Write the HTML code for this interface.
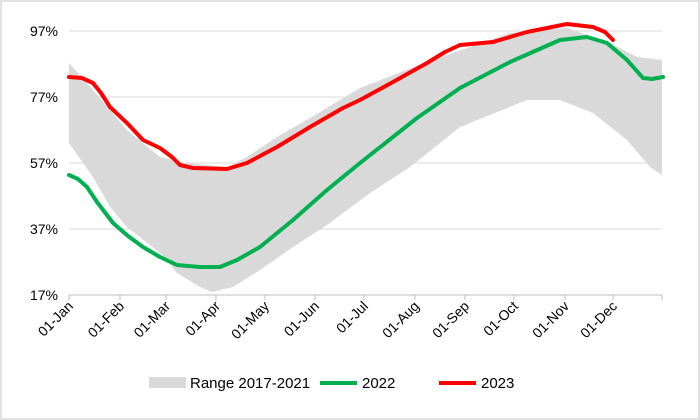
<!DOCTYPE html>
<html><head><style>body{margin:0;background:#fff}svg{display:block;font-family:"Liberation Sans",sans-serif}</style></head><body>
<svg width="700" height="420" viewBox="0 0 700 420">
<rect x="1" y="1" width="698" height="418" fill="#fff" stroke="#d9d9d9" stroke-width="1.5"/>
<g stroke="#d9d9d9" stroke-width="1">
<line x1="69" y1="31" x2="662" y2="31"/><line x1="69" y1="97" x2="662" y2="97"/><line x1="69" y1="163" x2="662" y2="163"/><line x1="69" y1="229" x2="662" y2="229"/>
</g>
<polygon fill="#d9d9d9" points="69,63 93,90 127,130 160,157 187,163 227,167 247,157 277,137 310,118 360,88 427,62 510,33 567,28 610,43 637,57 662,60 662,175 650,167 627,140 593,113 560,100 527,100 460,127 410,167 370,193 327,225 293,247 260,270 233,287 212,292 200,287 177,273 160,253 127,227 110,207 93,177 69,143"/>
<line x1="69" y1="295" x2="662" y2="295" stroke="#bfbfbf"/>
<g stroke="#bfbfbf"><line x1="69" y1="295" x2="69" y2="300"/><line x1="120" y1="295" x2="120" y2="300"/><line x1="166" y1="295" x2="166" y2="300"/><line x1="216" y1="295" x2="216" y2="300"/><line x1="265" y1="295" x2="265" y2="300"/><line x1="315" y1="295" x2="315" y2="300"/><line x1="364" y1="295" x2="364" y2="300"/><line x1="415" y1="295" x2="415" y2="300"/><line x1="465" y1="295" x2="465" y2="300"/><line x1="514" y1="295" x2="514" y2="300"/><line x1="565" y1="295" x2="565" y2="300"/><line x1="613" y1="295" x2="613" y2="300"/><line x1="662" y1="295" x2="662" y2="300"/></g>
<polyline fill="none" stroke="#00b050" stroke-width="4" stroke-linejoin="round" stroke-linecap="round" points="69,175 78,179 87,187 97,202 113,223 128,236 143,247 160,257 177,265 200,267 220,267 237,260 260,247 293,220 327,190 360,163 417,118 460,88 510,62 560,40 587,37 607,43 627,60 643,78 652,79 663,77"/>
<polyline fill="none" stroke="#ff0000" stroke-width="4" stroke-linejoin="round" stroke-linecap="round" points="69,77 82,78 93,83 101,93 110,107 127,123 143,140 160,148 172,157 180,165 193,168 227,169 247,163 277,147 310,127 343,108 360,100 393,82 427,63 445,52 460,45 493,42 527,32 567,24 593,27 605,32 613,40"/>
<g font-size="14" fill="#000" text-anchor="end">
<text x="58" y="36">97%</text><text x="58" y="102">77%</text><text x="58" y="168">57%</text><text x="58" y="234">37%</text><text x="58" y="300">17%</text>
</g>
<g font-size="14" fill="#000" text-anchor="end">
<text transform="translate(74,307) rotate(-45)">01-Jan</text>
<text transform="translate(125,307) rotate(-45)">01-Feb</text>
<text transform="translate(171,307) rotate(-45)">01-Mar</text>
<text transform="translate(221,307) rotate(-45)">01-Apr</text>
<text transform="translate(270,307) rotate(-45)">01-May</text>
<text transform="translate(320,307) rotate(-45)">01-Jun</text>
<text transform="translate(369,307) rotate(-45)">01-Jul</text>
<text transform="translate(420,307) rotate(-45)">01-Aug</text>
<text transform="translate(470,307) rotate(-45)">01-Sep</text>
<text transform="translate(519,307) rotate(-45)">01-Oct</text>
<text transform="translate(570,307) rotate(-45)">01-Nov</text>
<text transform="translate(618,307) rotate(-45)">01-Dec</text>
</g>
<rect x="149" y="377" width="37" height="11" fill="#d9d9d9"/>
<text x="190" y="388" font-size="15">Range 2017-2021</text>
<line x1="320" y1="383" x2="357" y2="383" stroke="#00b050" stroke-width="4"/>
<text x="362" y="388" font-size="15">2022</text>
<line x1="439" y1="383" x2="476" y2="383" stroke="#ff0000" stroke-width="4"/>
<text x="481" y="388" font-size="15">2023</text>
</svg>
</body></html>
